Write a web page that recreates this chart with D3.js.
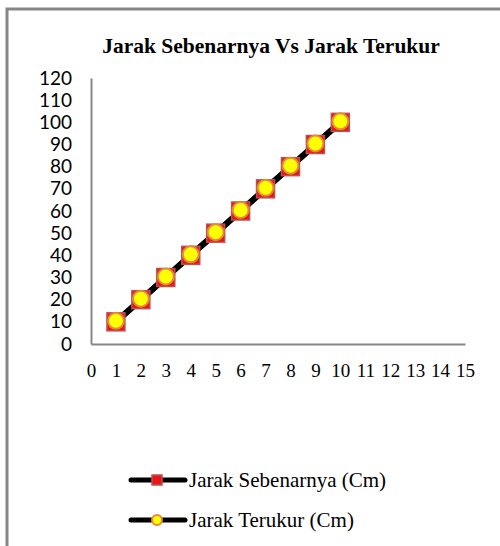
<!DOCTYPE html>
<html><head><meta charset="utf-8">
<script src="https://cdn.jsdelivr.net/npm/d3@7"></script>
<style>body{margin:0;background:#fff}svg{display:block}</style>
</head><body>
<script>
const xValues = [1,2,3,4,5,6,7,8,9,10];
const jarakSebenarnya = [10,20,30,40,50,60,70,80,90,100];
const jarakTerukur = [10,20,30,40,50,60,70,80,90,100];
const xTicks = d3.range(0,16,1);
const yTicks = d3.range(0,121,10);
const seriesNames = ["Jarak Sebenarnya (Cm)","Jarak Terukur (Cm)"];
const title = "Jarak Sebenarnya Vs Jarak Terukur";

const SERIF="'Liberation Serif','Times New Roman',Times,serif";
const SANS="Lato,'Liberation Sans',sans-serif";
const W=500,H=546;
const svg=d3.select("body").append("svg").attr("width",W).attr("height",H);
svg.append("path").attr("d",`M7,${H} V9 H${W}`).attr("fill","none").attr("stroke","#868686").attr("stroke-width",3);

const x=d3.scaleLinear().domain([0,15]).range([91,465]);
const y=d3.scaleLinear().domain([0,120]).range([344,78]);

svg.append("text").attr("x",271).attr("y",53).attr("text-anchor","middle")
  .attr("font-family",SERIF).attr("font-weight","bold").attr("font-size",21.5).text(title);

const yAxis=d3.axisLeft(y).tickValues(yTicks).tickSize(0).tickPadding(19);
const gy=svg.append("g").attr("transform","translate(91,0)").call(yAxis);
gy.attr("font-family",SANS).attr("font-size",19);
gy.select(".domain").attr("stroke","#888").attr("stroke-width",2);
gy.selectAll("text").attr("fill","#000");

const xAxis=d3.axisBottom(x).tickValues(xTicks).tickSize(0).tickPadding(20);
const gx=svg.append("g").attr("transform","translate(0,344)").call(xAxis);
gx.attr("font-family",SERIF).attr("font-size",19);
gx.select(".domain").attr("stroke","#888").attr("stroke-width",2);
gx.selectAll("text").attr("fill","#000");

const line=d3.line().x((d,i)=>x(xValues[i])).y(d=>y(d));
[jarakSebenarnya,jarakTerukur].forEach(s=>{
  svg.append("path").datum(s).attr("d",line).attr("fill","none").attr("stroke","#000").attr("stroke-width",6);
});
function square(g,cx,cy,s){
  g.append("rect").attr("x",cx-s/2).attr("y",cy-s/2).attr("width",s).attr("height",s)
   .attr("fill","#e8141a").attr("stroke","#b85450").attr("stroke-width",1.5);
}
function circle(g,cx,cy,r){
  g.append("circle").attr("cx",cx).attr("cy",cy).attr("r",r)
   .attr("fill","#ffff00").attr("stroke","#e8873a").attr("stroke-width",2);
}
const m1=svg.append("g");
jarakSebenarnya.forEach((d,i)=>square(m1,x(xValues[i]),y(d),18));
const m2=svg.append("g");
jarakTerukur.forEach((d,i)=>circle(m2,x(xValues[i]),y(d)-1,8));

const leg=svg.append("g");
[480,520].forEach((ly,i)=>{
  leg.append("line").attr("x1",131).attr("x2",185).attr("y1",ly).attr("y2",ly).attr("stroke","#000").attr("stroke-width",5).attr("stroke-linecap","round");
  if(i===0) square(leg,157,ly,10); else circle(leg,157,ly,5);
  leg.append("text").attr("x",189).attr("y",ly+7).attr("font-family",SERIF).attr("font-size",21).text(seriesNames[i]);
});
</script>
</body></html>
